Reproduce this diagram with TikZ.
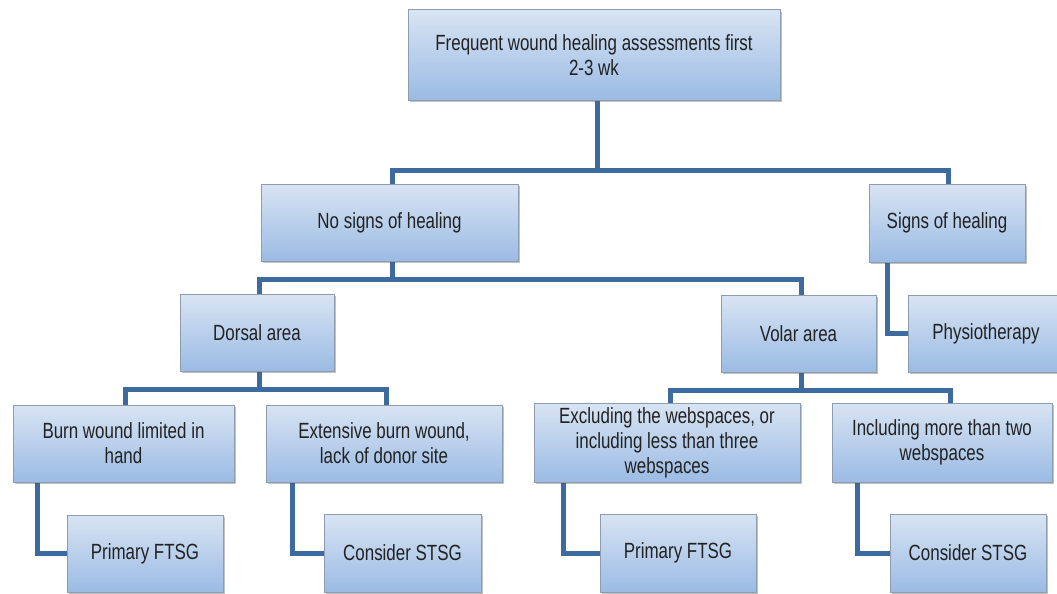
\documentclass[tikz,border=0pt]{standalone}
\usepackage{fontspec}
\setmainfont{Liberation Sans}[FakeStretch=0.77]
\usetikzlibrary{shadows,backgrounds}
\definecolor{boxtop}{HTML}{D8E4F3}
\definecolor{boxbot}{HTML}{9BBBE4}
\definecolor{boxline}{HTML}{8E9CB0}
\definecolor{connc}{HTML}{3E6B9F}
\definecolor{txt}{HTML}{222222}
\tikzset{
  box/.style={rectangle, draw=boxline, line width=1pt, top color=boxtop, bottom color=boxbot,
    drop shadow={shadow xshift=1.5pt, shadow yshift=-2pt, opacity=0.35, fill=black!70},
    align=center, text=txt, font=\fontsize{22}{25}\selectfont, inner sep=0pt},
  conn/.style={draw=connc, line width=5pt, line cap=rect}
}
\begin{document}
\begin{tikzpicture}[x=1pt,y=-1pt]
\useasboundingbox (0,0) rectangle (1057,594);
\node[box, minimum width=372, minimum height=90] (top) at (594,55) {Frequent wound healing assessments first\\2-3 wk};
\node[box, minimum width=257, minimum height=77] (nosigns) at (389.5,222.5) {No signs of healing};
\node[box, minimum width=156, minimum height=78] (signs) at (947,223) {Signs of healing};
\node[box, minimum width=154, minimum height=77] (dorsal) at (257,332.5) {Dorsal area};
\node[box, minimum width=155, minimum height=77] (volar) at (798.5,333.5) {Volar area};
\node[box, minimum width=156, minimum height=77] (physio) at (986,333.5) {Physiotherapy};
\node[box, minimum width=221, minimum height=77] (burn) at (123.5,443.5) {Burn wound limited in\\hand};
\node[box, minimum width=236, minimum height=77] (ext) at (384,443.5) {Extensive burn wound,\\lack of donor site};
\node[box, minimum width=266, minimum height=79] (excl) at (667,442.5) {Excluding the webspaces, or\\including less than three\\webspaces};
\node[box, minimum width=220, minimum height=79] (incl) at (942,442.5) {Including more than two\\webspaces};
\node[box, minimum width=156, minimum height=77] (pf1) at (145,553.5) {Primary FTSG};
\node[box, minimum width=157, minimum height=78] (cs1) at (402.5,553) {Consider STSG};
\node[box, minimum width=156, minimum height=78] (pf2) at (678,553) {Primary FTSG};
\node[box, minimum width=156, minimum height=78] (cs2) at (968,553) {Consider STSG};
\begin{pgfonlayer}{background}
\coordinate (j1) at (597,170);
\draw[conn] ([xshift=3]top.south) -- (j1);
\draw[conn] ([xshift=2.5]nosigns.north) |- (j1) -| ([xshift=1]signs.north);
\coordinate (j2) at (392,279);
\draw[conn] ([xshift=2.5]nosigns.south) -- (j2);
\draw[conn] ([xshift=2]dorsal.north) |- (j2) -| ([xshift=2.5]volar.north);
\coordinate (j3) at (259,389);
\draw[conn] ([xshift=2]dorsal.south) -- (j3);
\draw[conn] ([xshift=1.5]burn.north) |- (j3) -| ([xshift=2]ext.north);
\coordinate (j4) at (801,390);
\draw[conn] ([xshift=2.5]volar.south) -- (j4);
\draw[conn] ([xshift=3]excl.north) |- (j4) -| ([xshift=8]incl.north);
\draw[conn] ([xshift=-60]signs.south) |- (physio.west);
\draw[conn] ([xshift=-86.5]burn.south) |- (pf1.west);
\draw[conn] ([xshift=-92]ext.south) |- (cs1.west);
\draw[conn] ([xshift=-104]excl.south) |- (pf2.west);
\draw[conn] ([xshift=-85]incl.south) |- (cs2.west);
\end{pgfonlayer}
\end{tikzpicture}
\end{document}
